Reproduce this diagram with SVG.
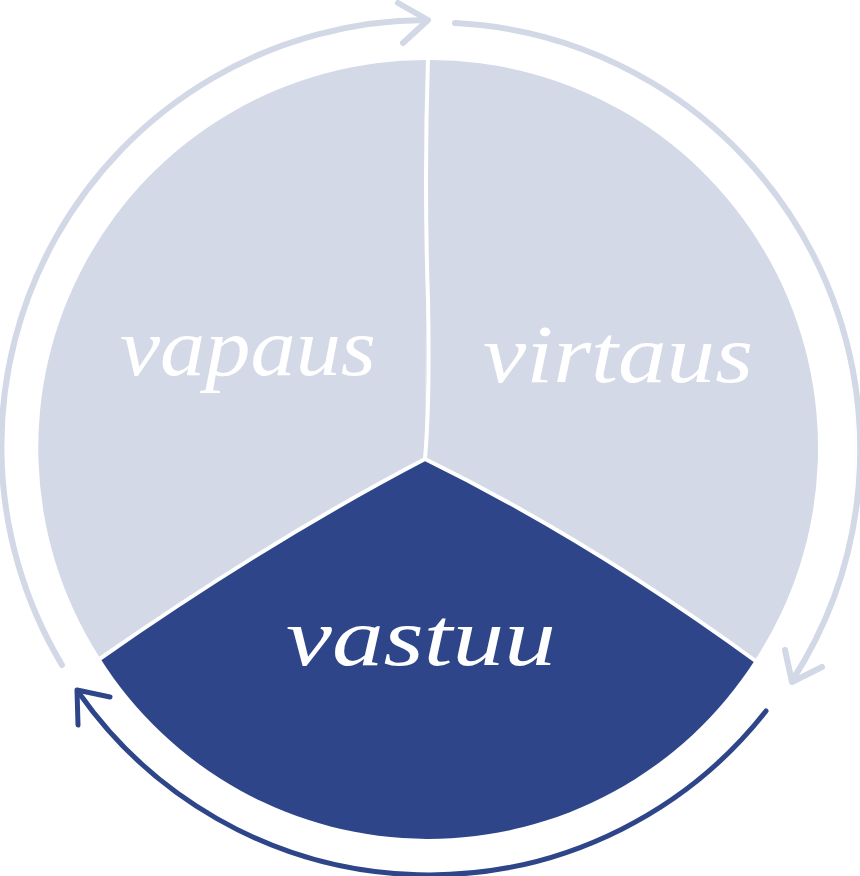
<svg xmlns="http://www.w3.org/2000/svg" width="860" height="876" viewBox="0 0 860 876">
  <defs>
    <style>
      .light { fill: #d4d9e7; }
      .dark { fill: #2e4689; }
      .divider { fill: none; stroke: #ffffff; stroke-width: 4; stroke-linecap: round; stroke-linejoin: round; }
      .ring-light { fill: none; stroke: #d3d8e7; stroke-width: 6; stroke-linecap: round; stroke-linejoin: round; }
      .ring-dark { fill: none; stroke: #2e4689; stroke-width: 5; stroke-linecap: round; stroke-linejoin: round; }
      .label { fill: #ffffff; font-family: "Liberation Serif", "DejaVu Serif", serif; font-style: italic; font-size: 82px; }
    </style>
  </defs>
  <rect width="860" height="876" fill="#ffffff"/>

  <g id="sector-vapaus">
    <path class="light" d="M 425 459 L 428 60 A 388 388 0 0 0 100 658 Q 270 540 425 459 Z"/>
    <text class="label" x="248" y="375" text-anchor="middle" textLength="256" lengthAdjust="spacingAndGlyphs">vapaus</text>
  </g>

  <g id="sector-virtaus">
    <path class="light" d="M 425 459 L 428 60 A 388 388 0 0 1 755 660 Q 590 540 425 459 Z"/>
    <text class="label" x="618" y="382" text-anchor="middle" textLength="270" lengthAdjust="spacingAndGlyphs">virtaus</text>
  </g>

  <g id="sector-vastuu">
    <path class="dark" d="M 425 459 Q 590 540 755 660 A 388 388 0 0 1 100 658 Q 270 540 425 459 Z"/>
    <text class="label" x="421" y="665" text-anchor="middle" textLength="270" lengthAdjust="spacingAndGlyphs">vastuu</text>
  </g>

  <g id="dividers">
    <path class="divider" d="M 428 58 Q 424 180 428 300 Q 430 400 425 459"/>
    <path class="divider" d="M 425 459 Q 270 540 98 660"/>
    <path class="divider" d="M 425 459 Q 590 540 757 662"/>
  </g>

  <g id="connectors">
    <path class="ring-light" d="M 62 665 A 426 426 0 0 1 426 20"/>
    <path class="ring-light" d="M 398 3 L 428 20 L 403 43"/>
    <path class="ring-light" d="M 455 23 A 427 427 0 0 1 792 681"/>
    <path class="ring-light" d="M 785 650 L 792 682 L 822 667"/>
    <path class="ring-dark" d="M 766 711 A 428 428 0 0 1 79 693"/>
    <path class="ring-dark" d="M 78 725 L 77 690 L 110 697"/>
  </g>
</svg>
